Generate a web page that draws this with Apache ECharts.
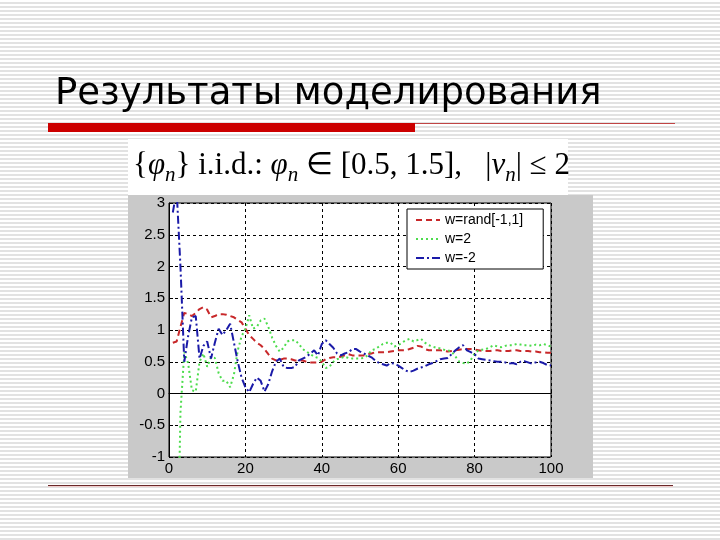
<!DOCTYPE html>
<html>
<head>
<meta charset="utf-8">
<script src="https://cdn.jsdelivr.net/npm/echarts@6/dist/echarts.min.js"></script>
<style>
html,body{margin:0;padding:0;width:720px;height:540px;overflow:hidden;
background:repeating-linear-gradient(to bottom,#ffffff 0px,#ffffff 2px,#e2e2e2 2px,#e2e2e2 4px);}
#c{width:720px;height:540px;}
</style>
</head>
<body>
<div id="c"></div>
<script>
// ---- data ----
const xTicks = [0, 20, 40, 60, 80, 100];
const yTicks = [-1, -0.5, 0, 0.5, 1, 1.5, 2, 2.5, 3];
const steps = Array.from({length: 100}, (_, i) => i + 1);
const seriesNames = ['w=rand[-1,1]', 'w=2', 'w=-2'];
const redVals = [0.8,0.82,1.05,1.27,1.25,1.22,1.27,1.33,1.36,1.32,
  1.2,1.22,1.25,1.25,1.24,1.22,1.2,1.16,1.12,1.02,
  0.92,0.86,0.8,0.76,0.7,0.62,0.55,0.52,0.53,0.55,
  0.55,0.54,0.52,0.52,0.52,0.5,0.49,0.49,0.49,0.5,
  0.54,0.56,0.57,0.57,0.58,0.6,0.62,0.6,0.6,0.6,
  0.6,0.62,0.63,0.65,0.65,0.65,0.65,0.66,0.67,0.68,
  0.68,0.68,0.7,0.72,0.75,0.74,0.7,0.68,0.68,0.68,
  0.68,0.67,0.66,0.67,0.68,0.69,0.7,0.7,0.7,0.69,
  0.68,0.67,0.67,0.67,0.68,0.68,0.67,0.67,0.67,0.68,
  0.68,0.67,0.67,0.67,0.66,0.66,0.65,0.65,0.64,0.64];
const greenVals = [-4.0,-3.5,-0.3,0.65,0.48,0.05,0.03,0.5,0.63,0.42,
  0.57,0.56,0.32,0.2,0.2,0.1,0.3,0.68,0.9,1.02,
  1.23,1.02,1.05,1.15,1.18,1.05,0.88,0.75,0.66,0.72,
  0.82,0.84,0.84,0.78,0.7,0.66,0.62,0.58,0.56,0.5,
  0.4,0.42,0.5,0.54,0.56,0.58,0.56,0.55,0.55,0.55,
  0.56,0.6,0.68,0.7,0.74,0.78,0.8,0.8,0.74,0.76,
  0.8,0.84,0.86,0.82,0.84,0.86,0.8,0.76,0.74,0.72,
  0.71,0.69,0.68,0.66,0.58,0.5,0.48,0.47,0.53,0.63,
  0.68,0.69,0.7,0.73,0.76,0.74,0.73,0.75,0.76,0.76,
  0.78,0.77,0.76,0.76,0.75,0.77,0.76,0.78,0.76,0.74];
const blueVals = [2.85,3.2,2.0,0.5,0.9,1.2,1.22,0.55,0.75,0.82,
  0.55,0.8,1.02,0.92,1.0,1.1,0.8,0.5,0.25,0.1,
  0.02,0.15,0.25,0.2,0.03,0.15,0.35,0.5,0.55,0.42,
  0.4,0.4,0.42,0.52,0.55,0.58,0.63,0.68,0.6,0.78,
  0.84,0.78,0.72,0.63,0.6,0.63,0.65,0.7,0.7,0.66,
  0.63,0.6,0.57,0.52,0.48,0.46,0.44,0.48,0.47,0.44,
  0.4,0.36,0.34,0.36,0.39,0.41,0.43,0.46,0.48,0.51,
  0.54,0.55,0.56,0.62,0.68,0.73,0.76,0.68,0.65,0.62,
  0.55,0.54,0.53,0.52,0.51,0.5,0.5,0.49,0.47,0.48,
  0.46,0.5,0.51,0.49,0.47,0.49,0.5,0.48,0.45,0.44];
const titleText = 'Результаты моделирования';

// ---- chart ----
const chart = echarts.init(document.getElementById('c'), null, {renderer: 'canvas'});
const pair = vals => steps.map((s, i) => [s, vals[i]]);
const labelFont = {fontFamily: 'Liberation Sans', fontSize: 15, color: '#000'};

chart.setOption({
  backgroundColor: 'transparent',
  animation: false,
  graphic: [
    {type: 'text', left: 55, top: 76, z: 10,
      style: {text: titleText, font: '37px "DejaVu Sans"', fill: '#000'}},
    {type: 'rect', shape: {x: 48, y: 123, width: 367, height: 9}, style: {fill: '#cc0000'}, z: 5},
    {type: 'rect', shape: {x: 415, y: 123, width: 260, height: 1}, style: {fill: '#c04444'}, z: 5},
    {type: 'rect', shape: {x: 48, y: 485, width: 625, height: 1}, style: {fill: '#6a2a2a'}, z: 5},
    {type: 'rect', shape: {x: 48, y: 486, width: 625, height: 1}, style: {fill: '#f2cccc'}, z: 5},
    {type: 'rect', shape: {x: 128, y: 139, width: 440, height: 56}, style: {fill: '#ffffff'}, z: 1},
    {type: 'text', left: 133, top: 146, z: 10,
      style: {
        text: '{m|{}{i|φ}{s|n}} i.i.d.: {i|φ}{s|n} ∈ [0.5, 1.5],   |{i|v}{s|n}| ≤ 2',
        fontFamily: 'Liberation Serif', fontSize: 31, fill: '#000', lineHeight: 40,
        rich: {
          m: {fontFamily: 'Liberation Serif', fontSize: 31, color: '#000', lineHeight: 40, verticalAlign: 'middle'},
          i: {fontFamily: 'Liberation Serif', fontStyle: 'italic', fontSize: 31, color: '#000', lineHeight: 40, verticalAlign: 'middle'},
          s: {fontFamily: 'Liberation Serif', fontStyle: 'italic', fontSize: 21, color: '#000', lineHeight: 40, verticalAlign: 'bottom'}
        }
      }},
    {type: 'rect', shape: {x: 128, y: 195, width: 465, height: 283}, style: {fill: '#c9c9c9'}, z: -10}
  ],
  grid: {left: 169, right: 169, top: 203, bottom: 83, show: true,
    backgroundColor: '#ffffff', borderColor: '#000', borderWidth: 1},
  legend: {
    orient: 'vertical', left: 407, top: 209,
    backgroundColor: '#ffffff', borderColor: '#000', borderWidth: 1,
    padding: [4, 20, 4, 8], itemWidth: 24, itemHeight: 14, itemGap: 5,
    itemStyle: {opacity: 0},
    textStyle: {fontFamily: 'Liberation Sans', fontSize: 14, color: '#000'},
    data: seriesNames
  },
  xAxis: {
    type: 'value', min: xTicks[0], max: xTicks[xTicks.length - 1], interval: 20,
    axisLine: {show: true, lineStyle: {color: '#000'}},
    axisTick: {show: true, inside: true, length: 4, lineStyle: {color: '#000'}},
    axisLabel: Object.assign({margin: 4}, labelFont),
    splitLine: {show: true, lineStyle: {color: '#000', type: [3, 3], width: 1}}
  },
  yAxis: {
    type: 'value', min: yTicks[0], max: yTicks[yTicks.length - 1], interval: 0.5,
    axisLine: {show: true, lineStyle: {color: '#000'}},
    axisTick: {show: true, inside: true, length: 4, lineStyle: {color: '#000'}},
    axisLabel: Object.assign({margin: 4}, labelFont),
    splitLine: {show: true, lineStyle: {color: '#000', type: [3, 3], width: 1}}
  },
  series: [
    {name: seriesNames[0], type: 'line', data: pair(redVals), symbol: 'none', clip: true,
      lineStyle: {color: '#c8282a', width: 2, type: [6, 4]}, itemStyle: {color: '#c8282a'}},
    {name: seriesNames[1], type: 'line', data: pair(greenVals), symbol: 'none', clip: true,
      lineStyle: {color: '#4ddc4d', width: 2, type: [2, 3]}, itemStyle: {color: '#4ddc4d'}},
    {name: seriesNames[2], type: 'line', data: pair(blueVals), symbol: 'none', clip: true,
      lineStyle: {color: '#1a1aa8', width: 2, type: [8, 3, 2, 3]}, itemStyle: {color: '#1a1aa8'}}
  ]
});
</script>
</body>
</html>
